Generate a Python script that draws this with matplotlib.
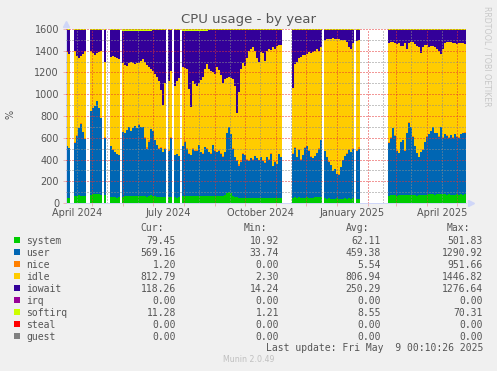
import datetime
import numpy as np
import matplotlib
matplotlib.use("Agg")
import matplotlib.pyplot as plt
import matplotlib.dates as mdates
from matplotlib.patches import Rectangle
from matplotlib.ticker import MultipleLocator, FuncFormatter, NullFormatter

# one value per 2-day bin, starting 2024-04-05 (None = no data)
start = datetime.datetime(2024, 4, 5)
bin_days = 2

system = [
    45, 48, None, None, 60, 65, 70, 68, 65, 62,
    None, None, 78, 82, 80, 85, 80, 75, None, 70,
    None, None, 55, 52, 55, 50, 55, None, 58, 60,
    62, 65, 63, 60, 62, 65, 68, 66, 62, 60,
    58, 62, 70, 65, 60, 58, 56, 55, 58, 55,
    None, 55, 58, None, 52, 50, 52, None, 65, 68,
    66, 64, 62, 64, 66, 68, 65, 63, 62, 64,
    66, 68, 65, 62, 60, 62, 64, 62, 60, 70,
    95, 100, 90, 65, 55, 52, 50, 48, 45, 46,
    45, 44, 46, 48, 45, 44, 46, 45, 44, 46,
    45, 44, 46, 45, 44, 45, 44, 44, None, None,
    None, None, None, 50, 52, 50, 52, 50, 48, 50,
    52, 50, 48, 50, 52, 55, 52, 55, None, 42,
    40, 42, 40, 38, 40, 42, 40, 38, 40, 42,
    40, 42, 40, 42, None, 40, 40, None, None, None,
    None, None, None, None, None, None, None, None, None, None,
    None, 68, 70, 72, 70, 68, 70, 72, 75, 72,
    74, 76, 75, 72, 70, 68, 70, 72, 74, 76,
    78, 80, 82, 80, 78, 80, 82, 85, 82, 80,
    78, 80, 78, 76, 78, 80, 78, 80, 78, 79,
]

user = [
    475, 457, None, None, 495, 555, 620, 662, 585, 528,
    None, None, 767, 788, 810, 850, 790, 705, None, 530,
    None, None, 465, 438, 410, 400, 385, None, 592, 580,
    608, 635, 597, 630, 643, 625, 652, 634, 638, 540,
    442, 498, 610, 595, 520, 472, 444, 455, 412, 445,
    None, 425, 542, None, 388, 400, 378, None, 455, 497,
    434, 391, 378, 436, 414, 412, 465, 407, 393, 451,
    434, 402, 390, 468, 420, 408, 416, 393, 365, 400,
    545, 600, 540, 435, 365, 338, 290, 332, 405, 394,
    355, 346, 364, 352, 385, 366, 349, 375, 346, 324,
    375, 356, 409, 295, 336, 315, 406, 376, None, None,
    None, None, None, 405, 458, 370, 438, 350, 392, 460,
    468, 430, 377, 360, 378, 405, 448, 525, None, 433,
    380, 338, 310, 252, 270, 223, 220, 292, 355, 388,
    415, 448, 430, 458, None, 440, 460, None, None, None,
    None, None, None, None, None, None, None, None, None, None,
    None, 482, 530, 618, 550, 412, 390, 488, 505, 408,
    566, 664, 625, 538, 450, 392, 350, 398, 416, 484,
    532, 550, 578, 620, 562, 560, 528, 615, 518, 550,
    542, 520, 547, 524, 552, 530, 522, 550, 562, 569,
]

nice = [
    3, 3, None, None, 3, 3, 3, 3, 3, 3,
    None, None, 3, 3, 3, 3, 3, 3, None, 3,
    None, None, 3, 3, 3, 3, 3, None, 3, 3,
    3, 3, 3, 3, 3, 3, 3, 3, 3, 5,
    15, 15, 5, 3, 3, 3, 3, 3, 3, 3,
    None, 3, 3, None, 3, 3, 3, None, 3, 3,
    3, 3, 3, 3, 3, 3, 3, 3, 3, 3,
    3, 3, 3, 3, 3, 3, 3, 3, 3, 3,
    3, 3, 3, 3, 5, 10, 20, 20, 10, 5,
    3, 3, 3, 3, 3, 3, 3, 3, 3, 3,
    3, 3, 3, 3, 3, 3, 3, 3, None, None,
    None, None, None, 3, 3, 3, 3, 3, 3, 3,
    3, 3, 3, 3, 3, 3, 3, 3, None, 3,
    3, 3, 3, 3, 3, 3, 3, 3, 3, 3,
    3, 3, 3, 3, None, 3, 15, None, None, None,
    None, None, None, None, None, None, None, None, None, None,
    None, 15, 3, 3, 3, 3, 3, 3, 3, 3,
    3, 3, 3, 3, 3, 3, 3, 3, 3, 3,
    3, 3, 3, 3, 3, 3, 3, 3, 3, 3,
    3, 3, 3, 3, 3, 3, 3, 3, 3, 1,
]

idle = [
    867, 862, None, None, 842, 727, 637, 617, 717, 802,
    None, None, 552, 507, 467, 437, 517, 612, None, 697,
    None, None, 822, 857, 877, 882, 877, None, 637, 627,
    587, 582, 637, 597, 567, 592, 567, 607, 617, 695,
    755, 675, 545, 547, 607, 627, 617, 527, 427, 597,
    None, 637, 607, None, 637, 667, 717, None, 727, 677,
    727, 592, 437, 617, 607, 597, 567, 657, 702, 712,
    777, 757, 757, 672, 707, 777, 737, 722, 672, 667,
    507, 457, 517, 637, 655, 430, 660, 830, 825, 815,
    927, 1007, 1007, 1027, 967, 917, 902, 967, 987, 937,
    977, 1017, 952, 1087, 1037, 1077, 997, 1027, None, None,
    None, None, None, 602, 767, 877, 837, 942, 917, 852,
    847, 902, 952, 977, 967, 952, 897, 847, None, 1017,
    1082, 1127, 1157, 1222, 1197, 1237, 1242, 1167, 1102, 1062,
    1022, 937, 947, 967, None, 1007, 985, None, None, None,
    None, None, None, None, None, None, None, None, None, None,
    None, 905, 877, 792, 852, 982, 1007, 882, 857, 987,
    777, 732, 782, 867, 937, 977, 1007, 907, 937, 887,
    842, 797, 777, 742, 787, 777, 787, 667, 817, 837,
    862, 882, 852, 872, 837, 852, 867, 837, 832, 813,
]

iowait = [
    204, 224, None, None, 192, 242, 262, 242, 222, 197,
    None, None, 192, 212, 232, 217, 202, 197, None, 294,
    None, None, 249, 244, 249, 259, 274, None, 292, 312,
    322, 297, 282, 292, 307, 297, 292, 272, 262, 282,
    312, 332, 355, 380, 400, 430, 470, 550, 690, 490,
    None, 472, 382, None, 512, 472, 442, None, 335, 340,
    355, 535, 705, 465, 495, 505, 485, 455, 425, 355,
    305, 360, 375, 385, 400, 340, 370, 410, 490, 450,
    440, 430, 440, 450, 510, 760, 570, 360, 305, 332,
    262, 192, 172, 162, 192, 262, 292, 202, 212, 282,
    192, 172, 182, 162, 172, 152, 142, 142, None, None,
    None, None, None, 535, 315, 295, 265, 250, 235, 230,
    225, 210, 215, 205, 195, 180, 195, 165, None, 100,
    90, 85, 85, 80, 85, 90, 90, 95, 95, 100,
    115, 165, 175, 125, None, 105, 95, None, None, None,
    None, None, None, None, None, None, None, None, None, None,
    None, 118, 108, 103, 113, 123, 118, 143, 148, 118,
    168, 113, 103, 108, 128, 148, 158, 208, 158, 138,
    133, 158, 148, 143, 158, 168, 188, 218, 168, 118,
    103, 103, 108, 113, 118, 123, 118, 118, 113, 127,
]

softirq = [
    6, 6, None, None, 8, 8, 8, 8, 8, 8,
    None, None, 8, 8, 8, 8, 8, 8, None, 6,
    None, None, 6, 6, 6, 6, 6, None, 18, 18,
    18, 18, 18, 18, 18, 18, 18, 18, 18, 18,
    18, 18, 15, 10, 10, 10, 10, 10, 10, 10,
    None, 8, 8, None, 8, 8, 8, None, 15, 15,
    15, 15, 15, 15, 15, 15, 15, 15, 15, 15,
    15, 10, 10, 10, 10, 10, 10, 10, 10, 10,
    10, 10, 10, 10, 10, 10, 10, 10, 10, 8,
    8, 8, 8, 8, 8, 8, 8, 8, 8, 8,
    8, 8, 8, 8, 8, 8, 8, 8, None, None,
    None, None, None, 5, 5, 5, 5, 5, 5, 5,
    5, 5, 5, 5, 5, 5, 5, 5, None, 5,
    5, 5, 5, 5, 5, 5, 5, 5, 5, 5,
    5, 5, 5, 5, None, 5, 5, None, None, None,
    None, None, None, None, None, None, None, None, None, None,
    None, 12, 12, 12, 12, 12, 12, 12, 12, 12,
    12, 12, 12, 12, 12, 12, 12, 12, 12, 12,
    12, 12, 12, 12, 12, 12, 12, 12, 12, 12,
    12, 12, 12, 12, 12, 12, 12, 12, 12, 11,
]

# legend table
names = ["system", "user", "nice", "idle", "iowait", "irq", "softirq", "steal", "guest"]
colors = ["#00CC00", "#0066B3", "#FF8000", "#FFCC00", "#330099",
          "#990099", "#CCFF00", "#FF0000", "#808080"]
cur = ["79.45", "569.16", "1.20", "812.79", "118.26", "0.00", "11.28", "0.00", "0.00"]
vmin = ["10.92", "33.74", "0.00", "2.30", "14.24", "0.00", "1.21", "0.00", "0.00"]
vavg = ["62.11", "459.38", "5.54", "806.94", "250.29", "0.00", "8.55", "0.00", "0.00"]
vmax = ["501.83", "1290.92", "951.66", "1446.82", "1276.64", "0.00", "70.31", "0.00", "0.00"]

W, H = 497, 371
txt = "#555555"
mgrid = (0.9, 0.2, 0.2, 0.3)
grid = (0.55, 0.55, 0.55, 0.3)
axis_col = "#CFD6F8"


def px(x, y):
    return x / W, 1 - y / H


fig = plt.figure(figsize=(W / 100, H / 100), dpi=100)
fig.patch.set_facecolor("#F0F0F0")
ax = fig.add_axes([66 / W, 168 / H, 400 / W, 174 / H])
ax.set_facecolor("white")

x = mdates.date2num([start + datetime.timedelta(days=bin_days * i) for i in range(len(system))])
stack = [(system, colors[0]), (user, colors[1]), (nice, colors[2]), (idle, colors[3]),
         (iowait, colors[4]), (softirq, colors[6])]
bottom = np.zeros(len(x))
for vals, c in stack:
    h = np.array(vals, dtype=float)
    ax.bar(x, h, width=bin_days, bottom=bottom, align="edge", color=c,
           linewidth=0, antialiased=False, zorder=1)
    bottom = bottom + h

ax.set_xlim(mdates.date2num(start), mdates.date2num(start + datetime.timedelta(days=400)))
ax.set_ylim(0, 1600)

ax.yaxis.set_major_locator(MultipleLocator(200))
ax.yaxis.set_minor_locator(MultipleLocator(100))
ax.xaxis.set_major_locator(mdates.MonthLocator())
ax.xaxis.set_minor_locator(mdates.MonthLocator(bymonthday=16))
ax.xaxis.set_major_formatter(NullFormatter())


def month_label(v, pos):
    d = mdates.num2date(v)
    return d.strftime("%B %Y") if d.month in (1, 4, 7, 10) else ""


ax.xaxis.set_minor_formatter(FuncFormatter(month_label))

ax.set_axisbelow(False)
ax.grid(which="major", color=mgrid, linestyle=(0, (1, 2)), linewidth=0.72)
ax.grid(which="minor", color=grid, linestyle=(0, (1, 2)), linewidth=0.72)

ax.tick_params(axis="x", which="major", length=2, width=0.72, color=mgrid)
ax.tick_params(axis="x", which="minor", length=0, labelsize=7, labelcolor=txt, pad=3.6)
ax.tick_params(axis="y", which="major", length=2, width=0.72, color=mgrid,
               labelsize=7, labelcolor=txt, pad=3)
ax.tick_params(axis="y", which="minor", length=0)

for s in ["top", "right"]:
    ax.spines[s].set_visible(False)
for s in ["left", "bottom"]:
    ax.spines[s].set_color(axis_col)
    ax.spines[s].set_linewidth(0.72)

# axis arrows
ax.plot([1.012], [0], marker=">", markersize=4, color=axis_col, transform=ax.transAxes, clip_on=False)
ax.plot([0], [1.03], marker="^", markersize=4, color=axis_col, transform=ax.transAxes, clip_on=False)

fig.text(*px(248.5, 20), "CPU usage - by year", ha="center", va="center", fontsize=9.5, color=txt)
fig.text(*px(11, 114), "%", ha="center", va="center", rotation=90, fontsize=7, color=txt)
fig.text(*px(487, 56), "RRDTOOL / TOBI OETIKER", ha="center", va="center", rotation=270,
         fontsize=5.7, color="#C8C8C8")

mono = "DejaVu Sans Mono"
col_right = [176, 279, 381, 483]
head_right = [163.8, 267, 369, 470.5]
for hx, lab in zip(head_right, ["Cur:", "Min:", "Avg:", "Max:"]):
    fig.text(*px(hx, 231), lab, ha="right", va="baseline", family=mono, fontsize=7, color=txt)

for i, name in enumerate(names):
    yc = 240 + 12 * i
    fig.add_artist(Rectangle(px(14, yc + 2.7), 5.5 / W, 5.5 / H, transform=fig.transFigure,
                             facecolor=colors[i], edgecolor="none"))
    fig.text(*px(26.5, yc + 3.5), name, ha="left", va="baseline", family=mono, fontsize=7, color=txt)
    for cx, vals in zip(col_right, [cur, vmin, vavg, vmax]):
        fig.text(*px(cx, yc + 3.5), vals[i], ha="right", va="baseline", family=mono,
                 fontsize=7, color=txt)

fig.text(*px(483, 351), "Last update: Fri May  9 00:10:26 2025", ha="right", va="baseline",
         family=mono, fontsize=7, color=txt)
fig.text(*px(248.5, 360), "Munin 2.0.49", ha="center", va="center", fontsize=5.7, color="#C0C0C0")

fig.savefig("out.png", dpi=100, facecolor=fig.get_facecolor())
